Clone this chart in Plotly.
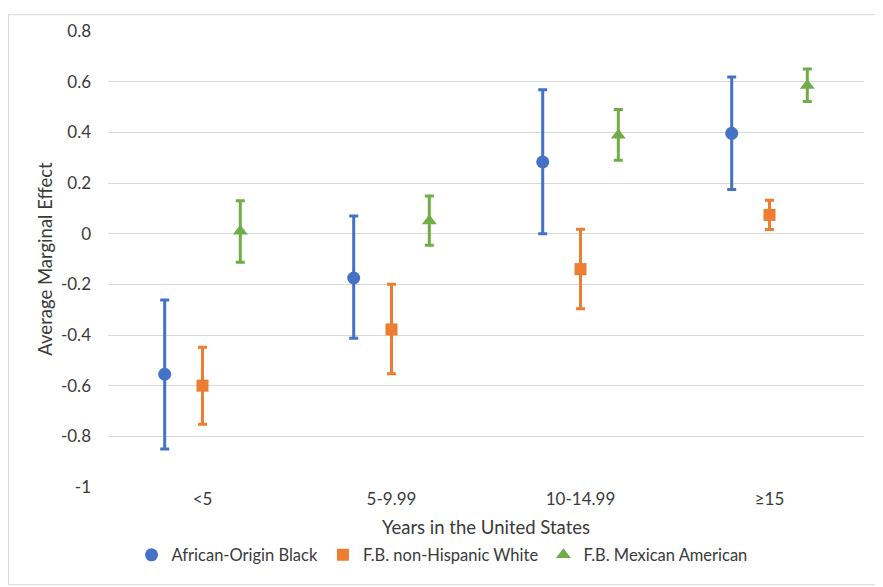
import plotly.graph_objects as go

categories = ["<5", "5-9.99", "10-14.99", "≥15"]

black_mean = [-0.555, -0.175, 0.283, 0.396]
black_low = [-0.850, -0.413, 0.000, 0.174]
black_high = [-0.262, 0.070, 0.568, 0.618]

white_mean = [-0.600, -0.378, -0.140, 0.074]
white_low = [-0.752, -0.553, -0.296, 0.016]
white_high = [-0.448, -0.200, 0.017, 0.132]

mex_mean = [0.010, 0.050, 0.388, 0.585]
mex_low = [-0.113, -0.046, 0.290, 0.522]
mex_high = [0.130, 0.149, 0.490, 0.650]

series = [
    ("African-Origin Black", black_mean, black_low, black_high, "#4472C4", "circle", 13, -0.2),
    ("F.B. non-Hispanic White", white_mean, white_low, white_high, "#ED7D31", "square", 12, 0.0),
    ("F.B. Mexican American", mex_mean, mex_low, mex_high, "#70AD47", "triangle-up", 13, 0.2),
]

fig = go.Figure()
for name, mean, low, high, color, symbol, size, off in series:
    xs = [i + 1 + off for i in range(len(categories))]
    fig.add_trace(go.Scatter(
        x=xs, y=mean, mode="markers", name=name,
        marker=dict(color=color, symbol=symbol, size=size, line=dict(width=0)),
        error_y=dict(type="data", symmetric=False,
                     array=[h - m for h, m in zip(high, mean)],
                     arrayminus=[m - l for m, l in zip(mean, low)],
                     color=color, thickness=3, width=4.5),
    ))

# the page body has an 8px margin, so the figure starts at (8, 8)
OFF = 8
W, H = 883 - OFF, 587 - OFF
ml, mr, mt, mb = 108 - OFF, W - (864 - OFF), 25 - OFF, H - (487 - OFF)
pw, ph = W - ml - mr, H - mt - mb

def px(xp):
    return (xp - OFF - ml) / pw

def py(yp):
    return (H - mb - (yp - OFF)) / ph

fig.add_shape(type="rect", xref="paper", yref="paper",
              x0=px(OFF + 0.5), x1=px(900), y0=py(586), y1=py(OFF + 0.5),
              line=dict(color="#d9d9d9", width=1), fillcolor="rgba(0,0,0,0)", layer="below")

TXT = "#3a3a3a"
fig.update_layout(
    width=W, height=H,
    margin=dict(l=ml, r=mr, t=mt, b=mb),
    paper_bgcolor="white", plot_bgcolor="white",
    font=dict(family="Lato", size=17, color=TXT),
    showlegend=True,
    legend=dict(orientation="h", x=px(442), xanchor="center", y=py(556), yanchor="middle",
                font=dict(size=16.5, color=TXT), itemwidth=30, tracegroupgap=0),
    xaxis=dict(range=[0.5, 4.5], tickmode="array", tickvals=[1, 2, 3, 4], ticktext=categories,
               showgrid=False, zeroline=False, showline=False, ticks="",
               tickfont=dict(size=17, color=TXT),
               title=dict(text="Years in the United States", font=dict(size=18.5, color=TXT), standoff=13)),
    yaxis=dict(range=[-1, 0.8], tickmode="array", tickvals=[-1, -0.8, -0.6, -0.4, -0.2, 0, 0.2, 0.4, 0.6, 0.8],
               ticktext=["-1", "-0.8", "-0.6", "-0.4", "-0.2", "0", "0.2", "0.4", "0.6", "0.8"],
               showgrid=True, gridcolor="#d9d9d9", gridwidth=1, zeroline=False, showline=False,
               ticks="", ticklabelstandoff=16,
               tickfont=dict(size=17, color=TXT),
               title=dict(text="Average Marginal Effect", font=dict(size=18.5, color=TXT), standoff=3)),
)

fig.write_html("out.html")
